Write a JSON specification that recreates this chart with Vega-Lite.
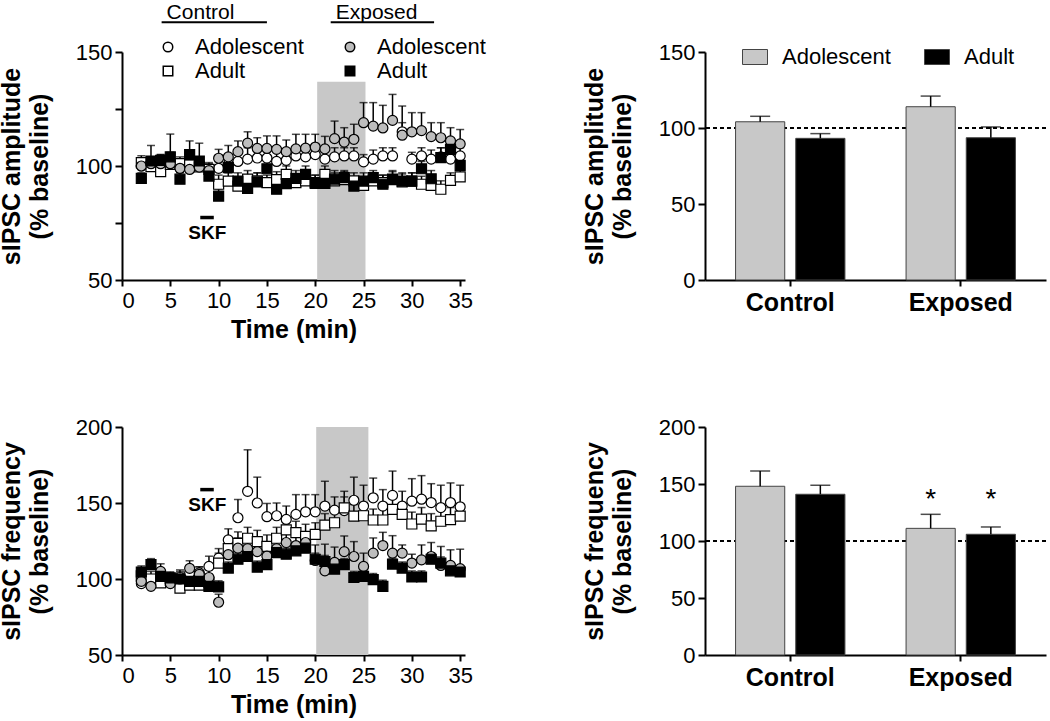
{
  "$schema": "https://vega.github.io/schema/vega-lite/v6.json",
  "padding": {"left": -1, "top": 2, "right": 0, "bottom": 5},
  "background": "white",
  "bounds": "flush",
  "columns": 2,
  "spacing": {"row": 147, "column": 240},
  "resolve": {"scale": {"fill": "independent", "shape": "independent"}, "legend": {"fill": "independent", "shape": "independent"}},
  "config": {
    "font": "Liberation Sans",
    "view": {"stroke": null},
    "axis": {"domainColor": "black", "domainWidth": 2, "tickColor": "black", "tickWidth": 2, "labelColor": "black", "labelFont": "Liberation Sans", "labelFontSize": 22, "titleFont": "Liberation Sans", "titleFontSize": 25, "titleFontWeight": "bold", "titleColor": "black", "grid": false},
    "axisY": {"tickSize": 7, "labelPadding": 3, "titlePadding": 23, "titleLineHeight": 28},
    "axisX": {"tickSize": 6, "labelPadding": 4, "titlePadding": 6},
    "legend": {"labelFont": "Liberation Sans", "labelFontSize": 22, "labelColor": "black"}
  },
  "datasets": {
    "amp": [
      {"t":2,"g":"Control","a":"Adolescent","y":100,"hi":103},{"t":3,"g":"Control","a":"Adolescent","y":101,"hi":104},{"t":4,"g":"Control","a":"Adolescent","y":101,"hi":105},{"t":5,"g":"Control","a":"Adolescent","y":102,"hi":106},{"t":6,"g":"Control","a":"Adolescent","y":99,"hi":102},{"t":7,"g":"Control","a":"Adolescent","y":100,"hi":103},{"t":8,"g":"Control","a":"Adolescent","y":101,"hi":104},{"t":9,"g":"Control","a":"Adolescent","y":98.5,"hi":101},{"t":10,"g":"Control","a":"Adolescent","y":99,"hi":102},{"t":11,"g":"Control","a":"Adolescent","y":100.7,"hi":104},{"t":12,"g":"Control","a":"Adolescent","y":102,"hi":106},{"t":13,"g":"Control","a":"Adolescent","y":103,"hi":108},{"t":14,"g":"Control","a":"Adolescent","y":103.5,"hi":107},{"t":15,"g":"Control","a":"Adolescent","y":103.5,"hi":108},{"t":16,"g":"Control","a":"Adolescent","y":102,"hi":106},{"t":17,"g":"Control","a":"Adolescent","y":102.5,"hi":107},{"t":18,"g":"Control","a":"Adolescent","y":104.4,"hi":108},{"t":19,"g":"Control","a":"Adolescent","y":104,"hi":109},{"t":20,"g":"Control","a":"Adolescent","y":105,"hi":109},{"t":21,"g":"Control","a":"Adolescent","y":103,"hi":107},{"t":22,"g":"Control","a":"Adolescent","y":104,"hi":108},{"t":23,"g":"Control","a":"Adolescent","y":104.4,"hi":108},{"t":24,"g":"Control","a":"Adolescent","y":104.4,"hi":108},{"t":25,"g":"Control","a":"Adolescent","y":101.8,"hi":105},{"t":26,"g":"Control","a":"Adolescent","y":103,"hi":107},{"t":27,"g":"Control","a":"Adolescent","y":104.4,"hi":108},{"t":28,"g":"Control","a":"Adolescent","y":104.4,"hi":108},{"t":29,"g":"Control","a":"Adolescent","y":115,"hi":119},{"t":30,"g":"Control","a":"Adolescent","y":103,"hi":106},{"t":31,"g":"Control","a":"Adolescent","y":104.4,"hi":108},{"t":32,"g":"Control","a":"Adolescent","y":103,"hi":107},{"t":33,"g":"Control","a":"Adolescent","y":104,"hi":108},{"t":34,"g":"Control","a":"Adolescent","y":103,"hi":106},{"t":35,"g":"Control","a":"Adolescent","y":104.4,"hi":108},
      {"t":2,"g":"Control","a":"Adult","y":101.5,"hi":104.5},{"t":3,"g":"Control","a":"Adult","y":99.7,"hi":102.7},{"t":4,"g":"Control","a":"Adult","y":97.5,"hi":100.5},{"t":5,"g":"Control","a":"Adult","y":100.7,"hi":103.7},{"t":6,"g":"Control","a":"Adult","y":101,"hi":104},{"t":7,"g":"Control","a":"Adult","y":100.5,"hi":103.5},{"t":8,"g":"Control","a":"Adult","y":99.6,"hi":102.6},{"t":9,"g":"Control","a":"Adult","y":98.5,"hi":101.5},{"t":10,"g":"Control","a":"Adult","y":92,"hi":96},{"t":11,"g":"Control","a":"Adult","y":93.4,"hi":97},{"t":12,"g":"Control","a":"Adult","y":91.2,"hi":95},{"t":13,"g":"Control","a":"Adult","y":94.2,"hi":98},{"t":14,"g":"Control","a":"Adult","y":93.5,"hi":97},{"t":15,"g":"Control","a":"Adult","y":92.7,"hi":96},{"t":16,"g":"Control","a":"Adult","y":94,"hi":97.5},{"t":17,"g":"Control","a":"Adult","y":96.3,"hi":100},{"t":18,"g":"Control","a":"Adult","y":92.7,"hi":96},{"t":19,"g":"Control","a":"Adult","y":93.5,"hi":97},{"t":20,"g":"Control","a":"Adult","y":92.7,"hi":96},{"t":21,"g":"Control","a":"Adult","y":96.3,"hi":100},{"t":22,"g":"Control","a":"Adult","y":93.5,"hi":97},{"t":23,"g":"Control","a":"Adult","y":94,"hi":97.5},{"t":24,"g":"Control","a":"Adult","y":93.5,"hi":97},{"t":25,"g":"Control","a":"Adult","y":91.5,"hi":95},{"t":26,"g":"Control","a":"Adult","y":93.5,"hi":97},{"t":27,"g":"Control","a":"Adult","y":92.7,"hi":96},{"t":28,"g":"Control","a":"Adult","y":94,"hi":97.5},{"t":29,"g":"Control","a":"Adult","y":93,"hi":96.5},{"t":30,"g":"Control","a":"Adult","y":93.4,"hi":97},{"t":31,"g":"Control","a":"Adult","y":92,"hi":95.5},{"t":32,"g":"Control","a":"Adult","y":91.5,"hi":95},{"t":33,"g":"Control","a":"Adult","y":89.8,"hi":93.5},{"t":34,"g":"Control","a":"Adult","y":93.7,"hi":97},{"t":35,"g":"Control","a":"Adult","y":95.2,"hi":98.5},
      {"t":2,"g":"Exposed","a":"Adolescent","y":100,"hi":103},{"t":3,"g":"Exposed","a":"Adolescent","y":101,"hi":104},{"t":4,"g":"Exposed","a":"Adolescent","y":101,"hi":104},{"t":5,"g":"Exposed","a":"Adolescent","y":101,"hi":104},{"t":6,"g":"Exposed","a":"Adolescent","y":99,"hi":102},{"t":7,"g":"Exposed","a":"Adolescent","y":98.5,"hi":101},{"t":8,"g":"Exposed","a":"Adolescent","y":99.5,"hi":102},{"t":9,"g":"Exposed","a":"Adolescent","y":98,"hi":100},{"t":10,"g":"Exposed","a":"Adolescent","y":103.4,"hi":107.3},{"t":11,"g":"Exposed","a":"Adolescent","y":104,"hi":109},{"t":12,"g":"Exposed","a":"Adolescent","y":106.3,"hi":111},{"t":13,"g":"Exposed","a":"Adolescent","y":110,"hi":115},{"t":14,"g":"Exposed","a":"Adolescent","y":107.7,"hi":112.4},{"t":15,"g":"Exposed","a":"Adolescent","y":107.7,"hi":113.2},{"t":16,"g":"Exposed","a":"Adolescent","y":107.3,"hi":113.2},{"t":17,"g":"Exposed","a":"Adolescent","y":106.3,"hi":111.4},{"t":18,"g":"Exposed","a":"Adolescent","y":107.5,"hi":113.9},{"t":19,"g":"Exposed","a":"Adolescent","y":107.8,"hi":113.9},{"t":20,"g":"Exposed","a":"Adolescent","y":108.3,"hi":113.9},{"t":21,"g":"Exposed","a":"Adolescent","y":107.5,"hi":113},{"t":22,"g":"Exposed","a":"Adolescent","y":112,"hi":119.7},{"t":23,"g":"Exposed","a":"Adolescent","y":110.5,"hi":116.8},{"t":24,"g":"Exposed","a":"Adolescent","y":111.7,"hi":118.3},{"t":25,"g":"Exposed","a":"Adolescent","y":119,"hi":127.8},{"t":26,"g":"Exposed","a":"Adolescent","y":117.5,"hi":127.8},{"t":27,"g":"Exposed","a":"Adolescent","y":116.7,"hi":126.6},{"t":28,"g":"Exposed","a":"Adolescent","y":120,"hi":131.4},{"t":29,"g":"Exposed","a":"Adolescent","y":113.5,"hi":126.3},{"t":30,"g":"Exposed","a":"Adolescent","y":115,"hi":123.4},{"t":31,"g":"Exposed","a":"Adolescent","y":115.5,"hi":123.4},{"t":32,"g":"Exposed","a":"Adolescent","y":112.9,"hi":119},{"t":33,"g":"Exposed","a":"Adolescent","y":112.4,"hi":119},{"t":34,"g":"Exposed","a":"Adolescent","y":111,"hi":116.8},{"t":35,"g":"Exposed","a":"Adolescent","y":109.7,"hi":116},
      {"t":2,"g":"Exposed","a":"Adult","y":94.6,"hi":97},{"t":3,"g":"Exposed","a":"Adult","y":102.2,"hi":109},{"t":4,"g":"Exposed","a":"Adult","y":102.5,"hi":105},{"t":5,"g":"Exposed","a":"Adult","y":104,"hi":114},{"t":6,"g":"Exposed","a":"Adult","y":94.2,"hi":97},{"t":7,"g":"Exposed","a":"Adult","y":105,"hi":111},{"t":8,"g":"Exposed","a":"Adult","y":102.2,"hi":110},{"t":9,"g":"Exposed","a":"Adult","y":95.6,"hi":98},{"t":10,"g":"Exposed","a":"Adult","y":86.8,"hi":90},{"t":11,"g":"Exposed","a":"Adult","y":99.3,"hi":102},{"t":12,"g":"Exposed","a":"Adult","y":93.4,"hi":97},{"t":13,"g":"Exposed","a":"Adult","y":90.2,"hi":94},{"t":14,"g":"Exposed","a":"Adult","y":93,"hi":97},{"t":15,"g":"Exposed","a":"Adult","y":98.8,"hi":102},{"t":16,"g":"Exposed","a":"Adult","y":89.8,"hi":94},{"t":17,"g":"Exposed","a":"Adult","y":92.3,"hi":96},{"t":18,"g":"Exposed","a":"Adult","y":94.6,"hi":98},{"t":19,"g":"Exposed","a":"Adult","y":96.3,"hi":100},{"t":20,"g":"Exposed","a":"Adult","y":92.4,"hi":96},{"t":21,"g":"Exposed","a":"Adult","y":92.4,"hi":96},{"t":22,"g":"Exposed","a":"Adult","y":94.2,"hi":98},{"t":23,"g":"Exposed","a":"Adult","y":94.9,"hi":98},{"t":24,"g":"Exposed","a":"Adult","y":91.2,"hi":95},{"t":25,"g":"Exposed","a":"Adult","y":93.4,"hi":97},{"t":26,"g":"Exposed","a":"Adult","y":94.9,"hi":98},{"t":27,"g":"Exposed","a":"Adult","y":92,"hi":96},{"t":28,"g":"Exposed","a":"Adult","y":94.2,"hi":98},{"t":29,"g":"Exposed","a":"Adult","y":93.4,"hi":97},{"t":30,"g":"Exposed","a":"Adult","y":93.4,"hi":97},{"t":31,"g":"Exposed","a":"Adult","y":98.8,"hi":102},{"t":32,"g":"Exposed","a":"Adult","y":94.4,"hi":98},{"t":33,"g":"Exposed","a":"Adult","y":103.7,"hi":108},{"t":34,"g":"Exposed","a":"Adult","y":107.3,"hi":112},{"t":35,"g":"Exposed","a":"Adult","y":100.3,"hi":104}
    ],
    "freq": [
      {"t":2,"g":"Control","a":"Adolescent","y":97,"hi":101},{"t":3,"g":"Control","a":"Adolescent","y":96,"hi":100},{"t":4,"g":"Control","a":"Adolescent","y":99,"hi":104},{"t":5,"g":"Control","a":"Adolescent","y":100,"hi":104},{"t":6,"g":"Control","a":"Adolescent","y":101,"hi":106},{"t":7,"g":"Control","a":"Adolescent","y":104,"hi":109},{"t":8,"g":"Control","a":"Adolescent","y":104,"hi":108},{"t":9,"g":"Control","a":"Adolescent","y":108.3,"hi":115},{"t":10,"g":"Control","a":"Adolescent","y":113.7,"hi":120},{"t":11,"g":"Control","a":"Adolescent","y":125.7,"hi":133},{"t":12,"g":"Control","a":"Adolescent","y":140.3,"hi":152.3},{"t":13,"g":"Control","a":"Adolescent","y":157.7,"hi":185},{"t":14,"g":"Control","a":"Adolescent","y":150,"hi":167},{"t":15,"g":"Control","a":"Adolescent","y":141,"hi":149.7},{"t":16,"g":"Control","a":"Adolescent","y":141.6,"hi":150},{"t":17,"g":"Control","a":"Adolescent","y":139.2,"hi":148},{"t":18,"g":"Control","a":"Adolescent","y":142.5,"hi":155.5},{"t":19,"g":"Control","a":"Adolescent","y":144.2,"hi":155.5},{"t":20,"g":"Control","a":"Adolescent","y":144.2,"hi":155.5},{"t":21,"g":"Control","a":"Adolescent","y":148,"hi":164.3},{"t":22,"g":"Control","a":"Adolescent","y":145.3,"hi":154},{"t":23,"g":"Control","a":"Adolescent","y":145,"hi":157.7},{"t":24,"g":"Control","a":"Adolescent","y":151.8,"hi":167},{"t":25,"g":"Control","a":"Adolescent","y":148,"hi":161.7},{"t":26,"g":"Control","a":"Adolescent","y":153.4,"hi":166.4},{"t":27,"g":"Control","a":"Adolescent","y":148,"hi":158.8},{"t":28,"g":"Control","a":"Adolescent","y":155,"hi":171},{"t":29,"g":"Control","a":"Adolescent","y":148,"hi":157.7},{"t":30,"g":"Control","a":"Adolescent","y":151.2,"hi":166},{"t":31,"g":"Control","a":"Adolescent","y":152.5,"hi":168},{"t":32,"g":"Control","a":"Adolescent","y":150.3,"hi":162.7},{"t":33,"g":"Control","a":"Adolescent","y":147,"hi":161.7},{"t":34,"g":"Control","a":"Adolescent","y":150.3,"hi":163.2},{"t":35,"g":"Control","a":"Adolescent","y":147.5,"hi":161.7},
      {"t":2,"g":"Control","a":"Adult","y":102,"hi":107},{"t":3,"g":"Control","a":"Adult","y":100,"hi":105},{"t":4,"g":"Control","a":"Adult","y":97.5,"hi":102},{"t":5,"g":"Control","a":"Adult","y":99,"hi":104},{"t":6,"g":"Control","a":"Adult","y":94,"hi":99},{"t":7,"g":"Control","a":"Adult","y":96,"hi":101},{"t":8,"g":"Control","a":"Adult","y":96,"hi":101},{"t":9,"g":"Control","a":"Adult","y":98,"hi":103},{"t":10,"g":"Control","a":"Adult","y":110.5,"hi":117},{"t":11,"g":"Control","a":"Adult","y":120,"hi":127},{"t":12,"g":"Control","a":"Adult","y":123.5,"hi":131},{"t":13,"g":"Control","a":"Adult","y":126.8,"hi":134},{"t":14,"g":"Control","a":"Adult","y":124.6,"hi":132},{"t":15,"g":"Control","a":"Adult","y":121.4,"hi":129},{"t":16,"g":"Control","a":"Adult","y":126.8,"hi":134},{"t":17,"g":"Control","a":"Adult","y":132.3,"hi":139},{"t":18,"g":"Control","a":"Adult","y":130.5,"hi":138},{"t":19,"g":"Control","a":"Adult","y":128,"hi":136},{"t":20,"g":"Control","a":"Adult","y":129.4,"hi":137},{"t":21,"g":"Control","a":"Adult","y":135.5,"hi":143},{"t":22,"g":"Control","a":"Adult","y":137,"hi":145},{"t":23,"g":"Control","a":"Adult","y":146.8,"hi":154},{"t":24,"g":"Control","a":"Adult","y":141.4,"hi":149},{"t":25,"g":"Control","a":"Adult","y":141.6,"hi":149},{"t":26,"g":"Control","a":"Adult","y":138.8,"hi":146},{"t":27,"g":"Control","a":"Adult","y":138.8,"hi":146},{"t":28,"g":"Control","a":"Adult","y":145.8,"hi":153},{"t":29,"g":"Control","a":"Adult","y":142.5,"hi":150},{"t":30,"g":"Control","a":"Adult","y":136.2,"hi":144},{"t":31,"g":"Control","a":"Adult","y":139.4,"hi":147},{"t":32,"g":"Control","a":"Adult","y":135,"hi":143},{"t":33,"g":"Control","a":"Adult","y":138,"hi":146},{"t":34,"g":"Control","a":"Adult","y":139,"hi":147},{"t":35,"g":"Control","a":"Adult","y":141.4,"hi":149},
      {"t":2,"g":"Exposed","a":"Adolescent","y":98.5,"hi":103},{"t":3,"g":"Exposed","a":"Adolescent","y":95.2,"hi":100},{"t":4,"g":"Exposed","a":"Adolescent","y":105,"hi":110},{"t":5,"g":"Exposed","a":"Adolescent","y":97,"hi":102},{"t":6,"g":"Exposed","a":"Adolescent","y":100,"hi":105},{"t":7,"g":"Exposed","a":"Adolescent","y":107,"hi":112},{"t":8,"g":"Exposed","a":"Adolescent","y":103,"hi":108},{"t":9,"g":"Exposed","a":"Adolescent","y":101,"hi":106},{"t":10,"g":"Exposed","a":"Adolescent","y":84.7,"hi":90},{"t":11,"g":"Exposed","a":"Adolescent","y":116,"hi":122},{"t":12,"g":"Exposed","a":"Adolescent","y":120.3,"hi":127},{"t":13,"g":"Exposed","a":"Adolescent","y":120,"hi":127},{"t":14,"g":"Exposed","a":"Adolescent","y":118,"hi":124},{"t":15,"g":"Exposed","a":"Adolescent","y":115,"hi":121},{"t":16,"g":"Exposed","a":"Adolescent","y":120,"hi":126},{"t":17,"g":"Exposed","a":"Adolescent","y":124,"hi":130},{"t":18,"g":"Exposed","a":"Adolescent","y":122,"hi":128},{"t":19,"g":"Exposed","a":"Adolescent","y":124,"hi":130},{"t":20,"g":"Exposed","a":"Adolescent","y":112.2,"hi":122.4},{"t":21,"g":"Exposed","a":"Adolescent","y":105.4,"hi":122.9},{"t":22,"g":"Exposed","a":"Adolescent","y":110.9,"hi":121},{"t":23,"g":"Exposed","a":"Adolescent","y":118,"hi":128.3},{"t":24,"g":"Exposed","a":"Adolescent","y":114.8,"hi":124.6},{"t":25,"g":"Exposed","a":"Adolescent","y":108.3,"hi":117},{"t":26,"g":"Exposed","a":"Adolescent","y":117,"hi":127},{"t":27,"g":"Exposed","a":"Adolescent","y":122,"hi":130.7},{"t":28,"g":"Exposed","a":"Adolescent","y":117,"hi":128.5},{"t":29,"g":"Exposed","a":"Adolescent","y":117,"hi":122.4},{"t":30,"g":"Exposed","a":"Adolescent","y":110.5,"hi":116.3},{"t":31,"g":"Exposed","a":"Adolescent","y":112.6,"hi":122.4},{"t":32,"g":"Exposed","a":"Adolescent","y":114.8,"hi":124},{"t":33,"g":"Exposed","a":"Adolescent","y":108.9,"hi":121.4},{"t":34,"g":"Exposed","a":"Adolescent","y":108.9,"hi":119.2},{"t":35,"g":"Exposed","a":"Adolescent","y":106.8,"hi":119.6},
      {"t":2,"g":"Exposed","a":"Adult","y":104.6,"hi":108.6},{"t":3,"g":"Exposed","a":"Adult","y":109.4,"hi":113.4},{"t":4,"g":"Exposed","a":"Adult","y":101.7,"hi":105.7},{"t":5,"g":"Exposed","a":"Adult","y":100.7,"hi":104.7},{"t":6,"g":"Exposed","a":"Adult","y":100,"hi":104},{"t":7,"g":"Exposed","a":"Adult","y":98.5,"hi":102.5},{"t":8,"g":"Exposed","a":"Adult","y":98.5,"hi":102.5},{"t":9,"g":"Exposed","a":"Adult","y":95.2,"hi":99.2},{"t":10,"g":"Exposed","a":"Adult","y":94.8,"hi":98.8},{"t":11,"g":"Exposed","a":"Adult","y":107.2,"hi":111.2},{"t":12,"g":"Exposed","a":"Adult","y":113,"hi":117},{"t":13,"g":"Exposed","a":"Adult","y":114.8,"hi":118.8},{"t":14,"g":"Exposed","a":"Adult","y":107.8,"hi":111.8},{"t":15,"g":"Exposed","a":"Adult","y":109.4,"hi":113.4},{"t":16,"g":"Exposed","a":"Adult","y":117.4,"hi":121.4},{"t":17,"g":"Exposed","a":"Adult","y":116.3,"hi":120.3},{"t":18,"g":"Exposed","a":"Adult","y":118.5,"hi":122.5},{"t":19,"g":"Exposed","a":"Adult","y":120.3,"hi":124.3},{"t":20,"g":"Exposed","a":"Adult","y":113,"hi":117},{"t":21,"g":"Exposed","a":"Adult","y":111.5,"hi":115.5},{"t":22,"g":"Exposed","a":"Adult","y":106.5,"hi":110.5},{"t":23,"g":"Exposed","a":"Adult","y":109.4,"hi":113.4},{"t":24,"g":"Exposed","a":"Adult","y":101,"hi":105},{"t":25,"g":"Exposed","a":"Adult","y":101.7,"hi":105.7},{"t":26,"g":"Exposed","a":"Adult","y":99.6,"hi":103.6},{"t":27,"g":"Exposed","a":"Adult","y":95.2,"hi":99.2},{"t":28,"g":"Exposed","a":"Adult","y":109.8,"hi":113.8},{"t":29,"g":"Exposed","a":"Adult","y":107.2,"hi":111.2},{"t":30,"g":"Exposed","a":"Adult","y":101.3,"hi":105.3},{"t":31,"g":"Exposed","a":"Adult","y":101.3,"hi":105.3},{"t":32,"g":"Exposed","a":"Adult","y":113,"hi":117},{"t":33,"g":"Exposed","a":"Adult","y":110.5,"hi":114.5},{"t":34,"g":"Exposed","a":"Adult","y":105.4,"hi":109.4},{"t":35,"g":"Exposed","a":"Adult","y":104.6,"hi":108.6}
    ],
    "ampBars": [
      {"g":"Control","a":"Adolescent","y":104.1,"hi":107.7},
      {"g":"Control","a":"Adult","y":93.2,"hi":96.3},
      {"g":"Exposed","a":"Adolescent","y":114,"hi":121},
      {"g":"Exposed","a":"Adult","y":93.6,"hi":100.7}
    ],
    "freqBars": [
      {"g":"Control","a":"Adolescent","y":148,"hi":161.4},
      {"g":"Control","a":"Adult","y":141,"hi":148.9},
      {"g":"Exposed","a":"Adolescent","y":111.1,"hi":123.4,"sig":"*"},
      {"g":"Exposed","a":"Adult","y":105.9,"hi":112.3,"sig":"*"}
    ],
    "skf": [{"label":"SKF","start":8.1,"end":9.5}],
    "headers": [{"label":"Control","start":4.1,"end":15.0},{"label":"Exposed","start":21.6,"end":32.3}]
  },
  "concat": [
    {
      "width": 343, "height": 228,
      "layer": [
        {"data": {"values": [{"start":20.2,"end":25.2}]}, "mark": {"type":"rect","color":"#c8c8c8"},
         "encoding": {
           "x": {"field":"start","type":"quantitative","scale":{"domain":[0,35.5],"nice":false,"zero":false},"axis":{"title":"Time (min)","values":[0,5,10,15,20,25,30,35]}},
           "x2": {"field":"end"},
           "y": {"datum":137,"type":"quantitative","scale":{"domain":[50,150],"nice":false,"zero":false},"axis":{"title":["sIPSC amplitude","(% baseline)"],"values":[50,75,100,125,150],"labelExpr":"datum.value % 50 === 0 ? datum.label : ''"}},
           "y2": {"datum":50}
         }},
        {"mark": {"type":"rule","strokeDash":[4,3],"strokeWidth":2,"color":"black"}, "encoding": {"y": {"datum":100,"type":"quantitative"}}},
        {"data": {"name":"amp"}, "mark": {"type":"rule","strokeWidth":1.5,"color":"black"},
         "encoding": {"x":{"field":"t","type":"quantitative"},"y":{"field":"y","type":"quantitative"},"y2":{"field":"hi"}}},
        {"data": {"name":"amp"}, "mark": {"type":"tick","orient":"horizontal","size":8,"thickness":1.5,"color":"black"},
         "encoding": {"x":{"field":"t","type":"quantitative"},"y":{"field":"hi","type":"quantitative"}}},
        {"data": {"name":"amp"}, "transform": [{"calculate":"datum.g + ' ' + datum.a","as":"s"}],
         "mark": {"type":"point","filled":true,"stroke":"black","strokeWidth":1.2,"size":100,"opacity":1},
         "encoding": {"x":{"field":"t","type":"quantitative"},"y":{"field":"y","type":"quantitative"},
           "shape":{"field":"s","type":"nominal","scale":{"domain":["Control Adolescent","Control Adult","Exposed Adolescent","Exposed Adult"],"range":["circle","square","circle","square"]},
             "legend":{"title":null,"orient":"none","legendX":35,"legendY":-16,"columns":2,"direction":"vertical","symbolSize":90,"labelOffset":16,"rowPadding":2,"columnPadding":35,"labelExpr":"split(datum.label, ' ')[1]","encode":{"symbols":{"update":{"stroke":{"value":"black"},"strokeWidth":{"value":1.2}}}}}},
           "fill":{"field":"s","type":"nominal","scale":{"domain":["Control Adolescent","Control Adult","Exposed Adolescent","Exposed Adult"],"range":["white","white","#bdbdbd","black"]},
             "legend":{"title":null,"orient":"none","legendX":35,"legendY":-16,"columns":2,"direction":"vertical","symbolSize":90,"labelOffset":16,"rowPadding":2,"columnPadding":35,"labelExpr":"split(datum.label, ' ')[1]","encode":{"symbols":{"update":{"stroke":{"value":"black"},"strokeWidth":{"value":1.2}}}}}}}},
        {"data": {"name":"skf"}, "mark": {"type":"rule","strokeWidth":3.5,"color":"black"},
         "encoding": {"x":{"field":"start","type":"quantitative"},"x2":{"field":"end"},"y":{"datum":77.4,"type":"quantitative"}}},
        {"data": {"name":"skf"}, "mark": {"type":"text","align":"left","baseline":"middle","dx":-12,"fontSize":19,"fontWeight":"bold","color":"black"},
         "encoding": {"x":{"field":"start","type":"quantitative"},"y":{"datum":70.5,"type":"quantitative"},"text":{"field":"label"}}},
        {"data": {"name":"headers"}, "mark": {"type":"rule","strokeWidth":2,"color":"black"},
         "encoding": {"x":{"field":"start","type":"quantitative"},"x2":{"field":"end"},"y":{"datum":163.1,"type":"quantitative"}}},
        {"data": {"name":"headers"}, "mark": {"type":"text","align":"left","baseline":"middle","dx":5,"fontSize":21,"color":"black"},
         "encoding": {"x":{"field":"start","type":"quantitative"},"y":{"datum":167,"type":"quantitative"},"text":{"field":"label"}}}
      ]
    },
    {
      "width": 341, "height": 228,
      "data": {"name":"ampBars"},
      "layer": [
        {"mark": {"type":"rule","strokeDash":[4,3],"strokeWidth":2,"color":"black"}, "encoding": {"y": {"datum":100,"type":"quantitative"}}},
        {"mark": {"type":"bar","stroke":"#444","strokeWidth":1},
         "encoding": {
           "x": {"field":"g","type":"nominal","sort":["Control","Exposed"],"scale":{"paddingInner":0,"paddingOuter":0},"axis":{"title":null,"labelFontWeight":"bold","labelFontSize":25,"labelAngle":0}},
           "xOffset": {"field":"a","type":"nominal","sort":["Adolescent","Adult"],"scale":{"paddingInner":0.183,"paddingOuter":0.508}},
           "y": {"field":"y","type":"quantitative","scale":{"domain":[0,150],"nice":false},"axis":{"title":["sIPSC amplitude","(% baseline)"],"values":[0,25,50,75,100,125,150],"labelExpr":"datum.value % 50 === 0 ? datum.label : ''"}},
           "fill": {"field":"a","type":"nominal","scale":{"domain":["Adolescent","Adult"],"range":["#c8c8c8","black"]},
             "legend":{"title":null,"orient":"none","legendX":37,"legendY":-8,"direction":"horizontal","columns":2,"symbolType":"M-1,-0.6H1V0.6H-1Z","symbolSize":625,"symbolStrokeColor":"#444","symbolStrokeWidth":1,"labelOffset":14,"columnPadding":31}}
         }},
        {"mark": {"type":"rule","strokeWidth":1.5,"color":"black"},
         "encoding": {"x":{"field":"g","type":"nominal","sort":["Control","Exposed"]},"xOffset":{"field":"a","type":"nominal","sort":["Adolescent","Adult"]},"y":{"field":"y","type":"quantitative"},"y2":{"field":"hi"}}},
        {"mark": {"type":"tick","orient":"horizontal","size":20,"thickness":1.5,"color":"black"},
         "encoding": {"x":{"field":"g","type":"nominal","sort":["Control","Exposed"]},"xOffset":{"field":"a","type":"nominal","sort":["Adolescent","Adult"]},"y":{"field":"hi","type":"quantitative"}}}
      ]
    },
    {
      "width": 343, "height": 228,
      "layer": [
        {"data": {"values": [{"start":20.1,"end":25.5}]}, "mark": {"type":"rect","color":"#c8c8c8"},
         "encoding": {
           "x": {"field":"start","type":"quantitative","scale":{"domain":[0,35.5],"nice":false,"zero":false},"axis":{"title":"Time (min)","values":[0,5,10,15,20,25,30,35]}},
           "x2": {"field":"end"},
           "y": {"datum":200,"type":"quantitative","scale":{"domain":[50,200],"nice":false,"zero":false},"axis":{"title":["sIPSC frequency","(% baseline)"],"values":[50,75,100,125,150,175,200],"labelExpr":"datum.value % 50 === 0 ? datum.label : ''"}},
           "y2": {"datum":50}
         }},
        {"mark": {"type":"rule","strokeDash":[4,3],"strokeWidth":2,"color":"black"}, "encoding": {"y": {"datum":100,"type":"quantitative"}}},
        {"data": {"name":"freq"}, "mark": {"type":"rule","strokeWidth":1.5,"color":"black"},
         "encoding": {"x":{"field":"t","type":"quantitative"},"y":{"field":"y","type":"quantitative"},"y2":{"field":"hi"}}},
        {"data": {"name":"freq"}, "mark": {"type":"tick","orient":"horizontal","size":8,"thickness":1.5,"color":"black"},
         "encoding": {"x":{"field":"t","type":"quantitative"},"y":{"field":"hi","type":"quantitative"}}},
        {"data": {"name":"freq"}, "transform": [{"calculate":"datum.g + ' ' + datum.a","as":"s"}],
         "mark": {"type":"point","filled":true,"stroke":"black","strokeWidth":1.2,"size":100,"opacity":1},
         "encoding": {"x":{"field":"t","type":"quantitative"},"y":{"field":"y","type":"quantitative"},
           "shape":{"field":"s","type":"nominal","scale":{"domain":["Control Adolescent","Control Adult","Exposed Adolescent","Exposed Adult"],"range":["circle","square","circle","square"]},"legend":null},
           "fill":{"field":"s","type":"nominal","scale":{"domain":["Control Adolescent","Control Adult","Exposed Adolescent","Exposed Adult"],"range":["white","white","#bdbdbd","black"]},"legend":null}}},
        {"data": {"name":"skf"}, "mark": {"type":"rule","strokeWidth":3.5,"color":"black"},
         "encoding": {"x":{"field":"start","type":"quantitative"},"x2":{"field":"end"},"y":{"datum":158.8,"type":"quantitative"}}},
        {"data": {"name":"skf"}, "mark": {"type":"text","align":"left","baseline":"middle","dx":-12,"fontSize":19,"fontWeight":"bold","color":"black"},
         "encoding": {"x":{"field":"start","type":"quantitative"},"y":{"datum":148.6,"type":"quantitative"},"text":{"field":"label"}}}
      ]
    },
    {
      "width": 341, "height": 228,
      "data": {"name":"freqBars"},
      "layer": [
        {"mark": {"type":"rule","strokeDash":[4,3],"strokeWidth":2,"color":"black"}, "encoding": {"y": {"datum":100,"type":"quantitative"}}},
        {"mark": {"type":"bar","stroke":"#444","strokeWidth":1},
         "encoding": {
           "x": {"field":"g","type":"nominal","sort":["Control","Exposed"],"scale":{"paddingInner":0,"paddingOuter":0},"axis":{"title":null,"labelFontWeight":"bold","labelFontSize":25,"labelAngle":0}},
           "xOffset": {"field":"a","type":"nominal","sort":["Adolescent","Adult"],"scale":{"paddingInner":0.183,"paddingOuter":0.508}},
           "y": {"field":"y","type":"quantitative","scale":{"domain":[0,200],"nice":false},"axis":{"title":["sIPSC frequency","(% baseline)"],"values":[0,25,50,75,100,125,150,175,200],"labelExpr":"datum.value % 50 === 0 ? datum.label : ''"}},
           "fill": {"field":"a","type":"nominal","scale":{"domain":["Adolescent","Adult"],"range":["#c8c8c8","black"]},"legend":null}
         }},
        {"mark": {"type":"rule","strokeWidth":1.5,"color":"black"},
         "encoding": {"x":{"field":"g","type":"nominal","sort":["Control","Exposed"]},"xOffset":{"field":"a","type":"nominal","sort":["Adolescent","Adult"]},"y":{"field":"y","type":"quantitative"},"y2":{"field":"hi"}}},
        {"mark": {"type":"tick","orient":"horizontal","size":20,"thickness":1.5,"color":"black"},
         "encoding": {"x":{"field":"g","type":"nominal","sort":["Control","Exposed"]},"xOffset":{"field":"a","type":"nominal","sort":["Adolescent","Adult"]},"y":{"field":"hi","type":"quantitative"}}},
        {"transform": [{"filter":"datum.sig"}], "mark": {"type":"text","fontSize":28,"baseline":"alphabetic","color":"black"},
         "encoding": {"x":{"field":"g","type":"nominal","sort":["Control","Exposed"]},"xOffset":{"field":"a","type":"nominal","sort":["Adolescent","Adult"]},"y":{"datum":129,"type":"quantitative"},"text":{"field":"sig"}}}
      ]
    }
  ]
}
